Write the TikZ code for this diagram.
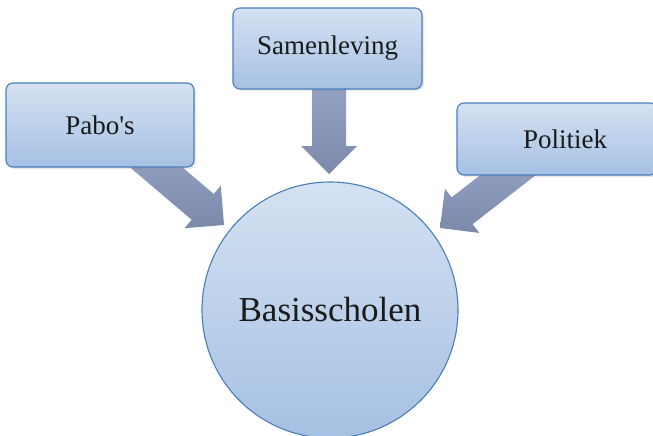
\documentclass[tikz,border=0pt]{standalone}
\usepackage{fontspec}
\setmainfont{Liberation Serif}
\usetikzlibrary{calc,shadows}
\definecolor{boxtop}{HTML}{D4E2F2}
\definecolor{boxbot}{HTML}{A6C0E3}
\definecolor{boxline}{HTML}{4A7EBB}
\definecolor{arrtop}{HTML}{97A6C7}
\definecolor{arrbot}{HTML}{7C89AA}
\definecolor{txt}{HTML}{1A1A1A}
\tikzset{
  srcbox/.style={rounded corners=7pt, draw=boxline, line width=1.1pt,
    top color=boxtop, bottom color=boxbot, text=txt,
    drop shadow={opacity=0.18, shadow xshift=2pt, shadow yshift=-2pt},
    font=\fontsize{27}{30}\selectfont},
  hub/.style={circle, draw=boxline, line width=1.1pt,
    top color=boxtop, bottom color=boxbot, text=txt,
    font=\fontsize{35}{38}\selectfont},
  blockarrow/.style={top color=arrtop, bottom color=arrbot, draw=none}
}
\newcommand{\blockarr}[2]{%
  \path[blockarrow]
    ($(#1)!17pt!90:(#2)$) -- ($($(#2)!28pt!(#1)$)!17pt!90:(#2)$)
    -- ($($(#2)!28pt!(#1)$)!28pt!90:(#2)$) -- (#2)
    -- ($($(#2)!28pt!(#1)$)!28pt!-90:(#2)$)
    -- ($($(#2)!28pt!(#1)$)!17pt!-90:(#2)$)
    -- ($(#1)!17pt!-90:(#2)$) -- cycle;}
\begin{document}
\begin{tikzpicture}[x=1pt,y=-1pt]
\useasboundingbox (0,0) rectangle (653,436);
% arrow anchor coordinates
\coordinate (pS) at (130,145);
\coordinate (pT) at (224,225);
\coordinate (sS) at (329,70);
\coordinate (sT) at (329,174);
\coordinate (lS) at (530,158);
\coordinate (lT) at (440,228);
\blockarr{pS}{pT}
\blockarr{sS}{sT}
\blockarr{lS}{lT}
% boxes
\node[srcbox, minimum width=188pt, minimum height=84pt] (pabo) at (100,125) {Pabo\textquotesingle s};
\node[srcbox, minimum width=189pt, minimum height=81pt] (samen) at (327.5,48.5) {Samenleving};
\node[srcbox, minimum width=200pt, minimum height=72pt] (poli) at (557,139) {\hspace*{16pt}Politiek};
\node[hub, minimum size=256pt, inner sep=0pt] (basis) at (330,310) {Basisscholen};
\end{tikzpicture}
\end{document}
